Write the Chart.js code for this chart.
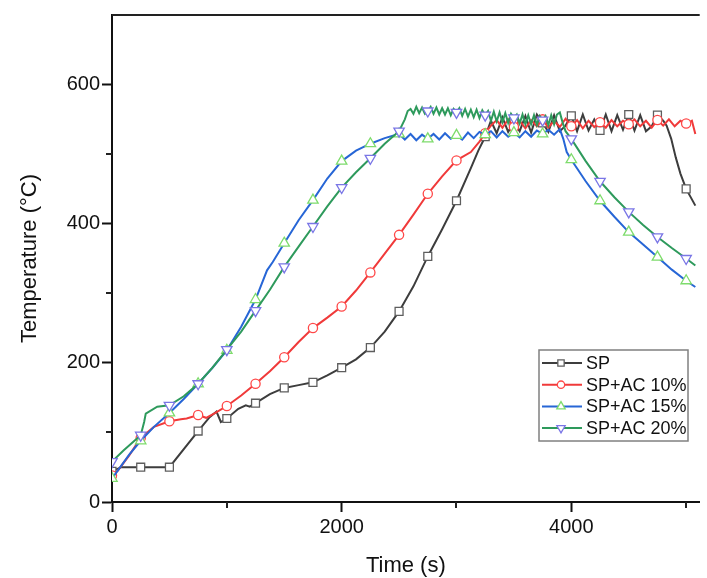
<!DOCTYPE html>
<html>
<head>
<meta charset="utf-8">
<script src="https://cdn.jsdelivr.net/npm/chart.js@4.4.1/dist/chart.umd.min.js"></script>
<style>
    html, body { margin: 0; padding: 0; background: #fff; }
    #wrap { width: 707px; height: 578px; }
</style>
</head>
<body>
<div id="wrap"><canvas id="temperature" width="707" height="578"></canvas></div>
<script>
// axis ticks
const xTicks = [0, 1000, 2000, 3000, 4000, 5000];
const xLabels = [0, 2000, 4000];
const yTicks = [0, 100, 200, 300, 400, 500, 600];
const yLabels = [0, 200, 400, 600];

// SP
const spTime = [0, 80, 250, 500, 750, 850, 910, 948, 1000, 1100, 1165, 1200, 1250, 1375, 1500, 1625, 1750, 1875, 2000,
    2125, 2250, 2375, 2500, 2625, 2750, 2875, 3000, 3125, 3190, 3250,
    3300, 3350, 3400, 3450, 3500, 3550, 3600, 3650, 3700, 3750, 3800, 3850, 3900, 3950, 4000, 4050, 4100, 4150,
    4200, 4250, 4300, 4350, 4400, 4450, 4500, 4550, 4600, 4650, 4700, 4750, 4800,
    4830, 4870, 4910, 4950, 5000, 5080];
const spTemp = [44, 50, 50, 50, 102, 122, 130, 115, 120, 134, 139, 137, 142, 155, 164, 168, 172, 182, 193,
    205, 222, 245, 274, 310, 353, 392, 433, 480, 505, 525,
    548, 530, 553, 532, 546, 533, 555, 531, 557, 545, 532, 556, 533, 541, 555, 533, 557, 534,
    550, 534, 557, 533, 556, 535, 557, 534, 556, 533, 540, 556, 548,
    541, 522, 495, 472, 450, 426];

// SP+AC 10%
const ac10Time = [0, 50, 150, 250, 365, 500, 600, 650, 750, 820, 900, 1000, 1125, 1250, 1375, 1500, 1625, 1750, 1875,
    2000, 2125, 2250, 2375, 2500, 2625, 2750, 2875, 3000, 3125, 3200, 3250,
    3300, 3350, 3400, 3450, 3500, 3550, 3600, 3650, 3700, 3750, 3800, 3850, 3900, 3950, 4000, 4050, 4100, 4150,
    4200, 4250, 4300, 4350, 4400, 4450, 4500, 4550, 4600, 4650, 4700, 4750, 4800, 4850, 4900, 4950, 5000, 5050,
    5080];
const ac10Temp = [38, 45, 67, 92, 108, 116, 119, 120, 125, 121, 128, 138, 153, 170, 188, 208, 230, 250, 265,
    281, 304, 330, 357, 384, 413, 443, 468, 491, 503, 518, 530,
    541, 549, 538, 550, 539, 548, 537, 549, 540, 550, 538, 548, 539, 551, 540, 549, 537, 548,
    539, 546, 538, 549, 540, 548, 543, 550, 540, 548, 538, 549, 541, 550, 540, 548, 544, 548,
    529];

// SP+AC 15%
const ac15Time = [0, 50, 150, 250, 365, 500, 625, 750, 875, 1000, 1125, 1250, 1350, 1400, 1500, 1625, 1750, 1875,
    2000, 2125, 2250, 2375, 2500,
    2550, 2600, 2650, 2700, 2750, 2800, 2850, 2900, 2950, 3000, 3050, 3100, 3150, 3200, 3250, 3300, 3350, 3400,
    3450, 3500, 3550, 3600, 3650, 3700, 3750, 3800, 3850, 3900,
    3930, 3960, 4000, 4125, 4250, 4375, 4500, 4625, 4750, 4875, 5000, 5080];
const ac15Temp = [34, 45, 68, 88, 108, 128, 148, 170, 193, 218, 252, 291, 333, 345, 372, 405, 434, 465,
    490, 505, 515, 523, 529,
    521, 529, 520, 528, 522, 529, 521, 530, 522, 527, 521, 531, 523, 532, 528, 533, 524, 533,
    525, 531, 524, 533, 525, 534, 529, 535, 528, 536,
    522, 503, 492, 461, 433, 410, 388, 370, 352, 334, 318, 309];

// SP+AC 20%
const ac20Time = [0, 100, 250, 280, 294, 394, 500, 625, 750, 875, 1000, 1125, 1250, 1375, 1500, 1625, 1750, 1875,
    2000, 2125, 2250, 2375, 2500, 2550, 2575,
    2600, 2625, 2650, 2675, 2700, 2725, 2750, 2775, 2800, 2825, 2850, 2875, 2900, 2925, 2950, 2975,
    3000, 3025, 3050, 3075, 3100, 3125, 3150, 3175, 3200, 3225, 3250, 3275, 3300, 3325, 3350, 3375,
    3400, 3425, 3450, 3475, 3500, 3525, 3550, 3575, 3600, 3625, 3650, 3675, 3700, 3725, 3750, 3775,
    3800, 3825, 3850, 3875, 3900,
    3925, 3950, 4000, 4125, 4250, 4375, 4500, 4625, 4750, 4875, 5000, 5080];
const ac20Temp = [58, 74, 96, 115, 127, 137, 139, 152, 170, 193, 219, 245, 275, 305, 338, 367, 396, 425,
    452, 474, 494, 515, 533, 550, 562,
    565, 558, 568, 559, 567, 558, 562, 568, 558, 567, 557, 566, 557, 566, 556, 565,
    560, 566, 555, 565, 554, 564, 553, 564, 552, 563, 556, 562, 548, 561, 547, 560,
    546, 559, 545, 558, 552, 557, 544, 557, 543, 556, 543, 556, 542, 555, 549, 555,
    542, 556, 543, 557, 560,
    545, 533, 522, 490, 461, 438, 417, 398, 381, 365, 350, 340];

const fontFamily = "'Liberation Sans', Arial, sans-serif";

const series = [
    { label: 'SP', times: spTime, temps: spTemp, line: '#3d3d3d', marker: '#5e5e5e', style: 'rect', rotation: 0, radius: 5.6 },
    { label: 'SP+AC 10%', times: ac10Time, temps: ac10Temp, line: '#f03a3a', marker: '#ff4848', style: 'circle', rotation: 0, radius: 4.6 },
    { label: 'SP+AC 15%', times: ac15Time, temps: ac15Temp, line: '#2766d6', marker: '#7edc6c', style: 'triangle', rotation: 0, radius: 6 },
    { label: 'SP+AC 20%', times: ac20Time, temps: ac20Temp, line: '#2e9a5c', marker: '#7a76e6', style: 'triangle', rotation: 180, radius: 6 }
];

function toPoints(times, temps) {
    return times.map((t, i) => ({ x: t, y: temps[i] }));
}

const datasets = series.map((s, i) => ({
    label: s.label,
    data: toPoints(s.times, s.temps),
    borderColor: s.line,
    borderWidth: 2,
    tension: 0,
    fill: false,
    order: series.length - i,
    pointStyle: s.style,
    pointRotation: s.rotation,
    pointBackgroundColor: '#fff',
    pointBorderColor: s.marker,
    pointBorderWidth: 1.3,
    pointRadius: (ctx) => (ctx.raw && ctx.raw.x % 250 === 0 ? s.radius : 0),
    pointHoverRadius: 0
}));

function isLabelled(list, ctx) {
    return !!(ctx.tick && list.includes(ctx.tick.value));
}

const framePlugin = {
    id: 'frame',
    afterDraw(chart) {
        const ctx = chart.ctx;
        const area = chart.chartArea;
        const xs = chart.scales.x;
        const ys = chart.scales.y;

        ctx.save();
        ctx.strokeStyle = '#222';
        ctx.lineWidth = 2;

        // top border
        ctx.beginPath();
        ctx.moveTo(area.left, area.top);
        ctx.lineTo(area.right, area.top);
        ctx.stroke();

        // minor ticks (the unlabelled ones are shorter)
        ctx.beginPath();
        yTicks.filter((v) => !yLabels.includes(v)).forEach((v) => {
            const py = Math.round(ys.getPixelForValue(v));
            ctx.moveTo(area.left - 6, py);
            ctx.lineTo(area.left, py);
        });
        xTicks.filter((v) => !xLabels.includes(v)).forEach((v) => {
            const px = Math.round(xs.getPixelForValue(v));
            ctx.moveTo(px, area.bottom);
            ctx.lineTo(px, area.bottom + 6);
        });
        ctx.stroke();

        // legend box
        const bx = 539, by = 350, bw = 149, bh = 91;
        ctx.lineWidth = 1.5;
        ctx.strokeStyle = '#808080';
        ctx.strokeRect(bx, by, bw, bh);

        ctx.font = '18px ' + fontFamily;
        ctx.textBaseline = 'middle';
        ctx.textAlign = 'left';
        series.forEach((s, i) => {
            const cy = by + 13 + i * 21.7;
            ctx.strokeStyle = s.line;
            ctx.lineWidth = 2;
            ctx.beginPath();
            ctx.moveTo(bx + 3, cy);
            ctx.lineTo(bx + 43, cy);
            ctx.stroke();

            ctx.fillStyle = '#fff';
            ctx.strokeStyle = s.marker;
            ctx.lineWidth = 1.3;
            Chart.helpers.drawPoint(ctx, {
                pointStyle: s.style,
                rotation: s.rotation,
                radius: s.radius * 0.8,
                borderWidth: 1.3
            }, bx + 22, cy);

            ctx.fillStyle = '#111';
            ctx.fillText(s.label, bx + 47, cy + 1);
        });
        ctx.restore();
    }
};

new Chart(document.getElementById('temperature'), {
    type: 'line',
    data: { datasets: datasets },
    options: {
        responsive: false,
        devicePixelRatio: 1,
        animation: false,
        events: [],
        layout: { padding: { top: 15, right: 0, left: 0, bottom: 0 } },
        plugins: {
            legend: { display: false },
            tooltip: { enabled: false }
        },
        scales: {
            x: {
                type: 'linear',
                min: 0,
                max: 5118,
                afterBuildTicks: (scale) => {
                    scale.ticks = xTicks.map((v) => ({ value: v }));
                },
                ticks: {
                    autoSkip: false,
                    maxRotation: 0,
                    padding: 3,
                    color: '#111',
                    font: { family: fontFamily, size: 20 },
                    callback: (v) => (xLabels.includes(v) ? String(v) : '')
                },
                grid: {
                    drawOnChartArea: false,
                    drawTicks: true,
                    tickLength: 10,
                    tickWidth: 2,
                    tickColor: (c) => (isLabelled(xLabels, c) ? '#111' : 'rgba(0,0,0,0)')
                },
                border: { display: true, color: '#111', width: 2 },
                title: {
                    display: true,
                    text: 'Time (s)',
                    color: '#111',
                    font: { family: fontFamily, size: 22, lineHeight: 1 },
                    padding: { top: 0, bottom: 1 }
                },
                afterFit: (scale) => { scale.height = 76; }
            },
            y: {
                type: 'linear',
                min: 0,
                max: 700,
                afterBuildTicks: (scale) => {
                    scale.ticks = yTicks.map((v) => ({ value: v }));
                },
                ticks: {
                    autoSkip: false,
                    padding: 2,
                    color: '#111',
                    font: { family: fontFamily, size: 20 },
                    callback: (v) => (yLabels.includes(v) ? String(v) : '')
                },
                grid: {
                    drawOnChartArea: false,
                    drawTicks: true,
                    tickLength: 10,
                    tickWidth: 2,
                    tickColor: (c) => (isLabelled(yLabels, c) ? '#111' : 'rgba(0,0,0,0)')
                },
                border: { display: true, color: '#111', width: 2 },
                title: {
                    display: true,
                    text: 'Temperature (°C)',
                    color: '#111',
                    font: { family: fontFamily, size: 22, lineHeight: 1 },
                    padding: { top: 19, bottom: 0 }
                },
                afterFit: (scale) => { scale.width = 112; }
            }
        }
    },
    plugins: [framePlugin]
});
</script>
</body>
</html>
